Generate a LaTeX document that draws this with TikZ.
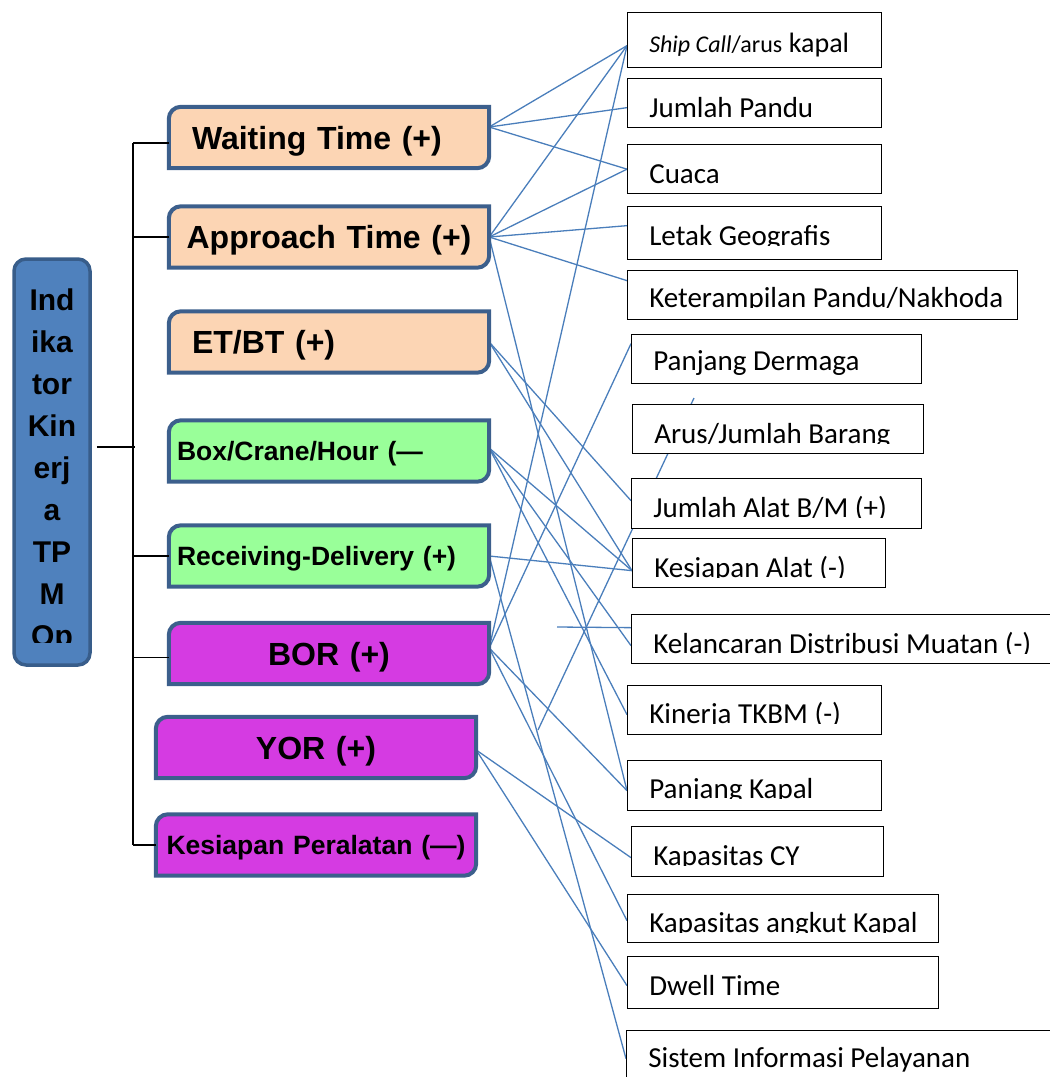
\documentclass[tikz,border=0pt]{standalone}
\usepackage{fontspec}
\setmainfont{Liberation Sans}
\newfontfamily\calibri{Carlito}
\usetikzlibrary{backgrounds}

\definecolor{peach}{HTML}{FCD5B4}
\definecolor{lime}{HTML}{99FF99}
\definecolor{orchid}{HTML}{D53BE2}
\definecolor{edgeblue}{HTML}{3C5F8C}
\definecolor{headblue}{HTML}{4F81BD}
\definecolor{headedge}{HTML}{385D8A}
\definecolor{linkblue}{HTML}{4A7EBB}

\begin{document}
\begin{tikzpicture}[x=1pt, y=1pt]
		% Define styles
		\tikzstyle{headbox} = [rectangle, draw=headedge, line width=3.5pt, fill=headblue,
		rounded corners=12pt, minimum width=76pt, minimum height=406pt, inner sep=0pt]
		\tikzstyle{headtext} = [anchor=base, inner sep=0pt, font=\bfseries\fontsize{30}{32}\selectfont]
		\tikzstyle{midbox} = [rectangle, minimum width=320pt, minimum height=61pt, inner ysep=0pt]
		\tikzstyle{bigtext} = [font=\bfseries\fontsize{32}{36}\selectfont, text height=23pt, text depth=0pt]
		\tikzstyle{smalltext} = [font=\bfseries\fontsize{26.5}{30}\selectfont, text height=19pt, text depth=0pt]
		\tikzstyle{leftset} = [inner xsep=23pt, text width=274pt, align=left]
		\tikzstyle{nearleft} = [inner xsep=8pt, text width=304pt, align=left]
		\tikzstyle{midset} = [inner xsep=0pt, text width=320pt, align=center]
		\tikzstyle{midedge} = [draw=edgeblue, line width=4pt]
		\tikzstyle{tree} = [line width=1.6pt]
		\tikzstyle{link} = [draw=linkblue, line width=1.3pt]
		\tikzstyle{factortext} = [anchor=base west, inner sep=0pt, minimum width=0pt, minimum height=0pt,
		draw=none, fill=none, font=\calibri\fontsize{29}{31}\selectfont]
		\tikzset{
			factorbase/.store in=\factorbase, factorbase=11pt,
			factorcut/.store in=\factorcut, factorcut=\factorbase,
			factor/.style={rectangle, draw, line width=1.3pt, fill=white, anchor=north west,
				inner sep=0pt, minimum height=49pt,
				path picture={
					\clip ([yshift=\factorcut]path picture bounding box.south west)
					rectangle (path picture bounding box.north east);
					\node[factortext] at ([xshift=21pt, yshift=\factorbase]path picture bounding box.south west) {#1};
				}}
		}
		
		\useasboundingbox (0,0) rectangle (1050,-1077);
		
		% Left block
		\node[headbox] (indi) at (52,-462) {};
		\begin{scope}
			\clip (indi.north west) rectangle ([yshift=24pt]indi.south east);
			\foreach \w [count=\i from 0] in {Ind,ika,tor,Kin,erj,a,TP,M,Op}
			\node[headtext] (head\i) at (52,-310-42*\i) {\w};
		\end{scope}
		
		% Indicators
		\node[midbox, bigtext, leftset] (waiting) at (329,-137.5) {Waiting Time (+)};
		\node[midbox, bigtext, midset] (approach) at (329,-237) {Approach Time (+)};
		\node[midbox, bigtext, leftset] (etbt) at (329,-342) {ET/BT (+)};
		\node[midbox, smalltext, nearleft] (bch) at (329,-451) {Box/Crane/Hour (—};
		\node[midbox, smalltext, nearleft] (recv) at (329,-556) {Receiving-Delivery (+)};
		\node[midbox, bigtext, midset] (bor) at (329,-653.5) {BOR (+)};
		\node[midbox, bigtext, midset] (yor) at (316,-747.5) {YOR (+)};
		\node[midbox, smalltext, midset] (kesper) at (316,-845) {Kesiapan Peralatan (—)};
		
		% Factors
		\node[factor={\textit{\fontsize{24}{26}\selectfont Ship Call}{\fontsize{24}{26}\selectfont/arus} \fontsize{28}{30}\selectfont kapal},
		minimum width=254pt, minimum height=55pt, factorbase=15pt, factorcut=2pt] (ship) at (627,-12) {};
		\node[factor={Jumlah Pandu}, minimum width=254pt, factorbase=10pt] (pandu) at (627,-78) {};
		\node[factor={Cuaca}, minimum width=254pt, factorbase=10pt] (cuaca) at (627,-144) {};
		\node[factor={Letak Geografis}, minimum width=254pt, minimum height=53pt, factorbase=14pt] (letak) at (627,-206) {};
		\node[factor={Keterampilan Pandu/Nakhoda}, minimum width=390pt, factorbase=12pt] (terampil) at (627,-270) {};
		\node[factor={Panjang Dermaga}, minimum width=290pt, factorbase=13pt, factorcut=2pt] (dermaga) at (631,-334) {};
		\node[factor={Arus/Jumlah Barang}, minimum width=291pt, factorbase=10pt] (barang) at (632,-404) {};
		\node[factor={Jumlah Alat B/M (+)}, minimum width=290pt, minimum height=50pt] (alat) at (631,-478) {};
		\node[factor={Kesiapan Alat (-)}, minimum width=253pt, factorbase=10pt] (kesalat) at (632,-538) {};
		\node[factor={Kelancaran Distribusi Muatan (-)}, minimum width=425pt, factorbase=10pt] (lancar) at (631,-614) {};
		\node[factor={Kinerja TKBM (-)}, minimum width=254pt] (tkbm) at (627,-685) {};
		\node[factor={Panjang Kapal}, minimum width=254pt, minimum height=50pt, factorbase=12pt] (pkapal) at (627,-760) {};
		\node[factor={Kapasitas CY}, minimum width=252pt, minimum height=50pt] (cy) at (631,-826) {};
		\node[factor={Kapasitas angkut Kapal}, minimum width=311pt, minimum height=48pt, factorbase=10pt] (angkut) at (627,-894) {};
		\node[factor={Dwell Time}, minimum width=311pt, minimum height=52pt, factorbase=13pt] (dwell) at (627,-956) {};
		\node[factor={Sistem Informasi Pelayanan}, minimum width=430pt, minimum height=60pt, factorbase=23pt, factorcut=10pt] (sistem) at (626,-1030) {};
		
		% Loose line ends
		\coordinate (stray) at (538,-730);
		\coordinate (strayend) at (694,-398);
		\coordinate (stub) at (557,-627);
		\coordinate (trunktop) at (133,-143);
		\coordinate (trunkend) at (133,-845);
		
		% Tree
		\draw[tree] (trunktop) -- (trunkend);
		\draw[tree] ([xshift=5pt, yshift=15pt]indi.east) -- +(38,0);
		\foreach \n/\s/\l in {waiting/-5.5/36, approach/0/36, recv/0/36, bor/-4/36, kesper/0/23}
		\draw[tree] ([yshift=\s pt]\n.west) -- +(-\l,0);
		
		\begin{scope}[on background layer]
			% Draw links
			\draw[link] ([yshift=10.5pt]waiting.east) -- ([yshift=-5.5pt]ship.west);
			\draw[link] ([yshift=10.5pt]waiting.east) -- ([yshift=-4.5pt]pandu.west);
			\draw[link] ([yshift=10.5pt]waiting.east) -- (cuaca.west);
			\draw[link] (approach.east) -- ([yshift=-5.5pt]ship.west);
			\draw[link] (approach.east) -- (cuaca.west);
			\draw[link] (approach.east) -- ([yshift=7.5pt]letak.west);
			\draw[link] (approach.east) -- ([yshift=14.5pt]terampil.west);
			\draw[link] (approach.east) -- ([yshift=-5pt]pkapal.west);
			\draw[link] (etbt.east) -- ([yshift=3pt]alat.west);
			\draw[link] (etbt.east) -- ([yshift=-7.5pt]kesalat.west);
			\draw[link] ([yshift=3pt]bch.east) -- ([yshift=-7.5pt]kesalat.west);
			\draw[link] ([yshift=3pt]bch.east) -- ([yshift=-6.5pt]lancar.west);
			\draw[link] ([yshift=3pt]bch.east) -- ([yshift=-4.5pt]tkbm.west);
			\draw[link] (recv.east) -- ([yshift=-7.5pt]kesalat.west);
			\draw[link] (recv.east) -- ([yshift=2pt]sistem.west);
			\draw[link] ([yshift=5.5pt]bor.east) -- ([yshift=-5.5pt]ship.west);
			\draw[link] ([yshift=5.5pt]bor.east) -- ([yshift=15.5pt]dermaga.west);
			\draw[link] ([yshift=5.5pt]bor.east) -- ([yshift=-5pt]pkapal.west);
			\draw[link] ([yshift=5.5pt]bor.east) -- ([yshift=-2pt]angkut.west);
			\draw[link] ([yshift=-2.5pt]yor.east) -- ([yshift=-6pt]cy.west);
			\draw[link] ([yshift=-2.5pt]yor.east) -- ([yshift=-3pt]dwell.west);
			\draw[link] (stray) -- (strayend);
			\draw[link] (stub) -- ([yshift=11.5pt]lancar.west);
			
			% Indicator outlines
			\foreach \n/\c in {waiting/peach, approach/peach, etbt/peach, bch/lime, recv/lime, bor/orchid, yor/orchid, kesper/orchid}
			\draw[midedge, fill=\c] (\n.south west) -- ([yshift=-12pt]\n.north west)
			arc[start angle=180, end angle=90, radius=12pt] -- (\n.north east)
			-- ([yshift=12pt]\n.south east) arc[start angle=0, end angle=-90, radius=12pt] -- cycle;
		\end{scope}
	\end{tikzpicture}
\end{document}
